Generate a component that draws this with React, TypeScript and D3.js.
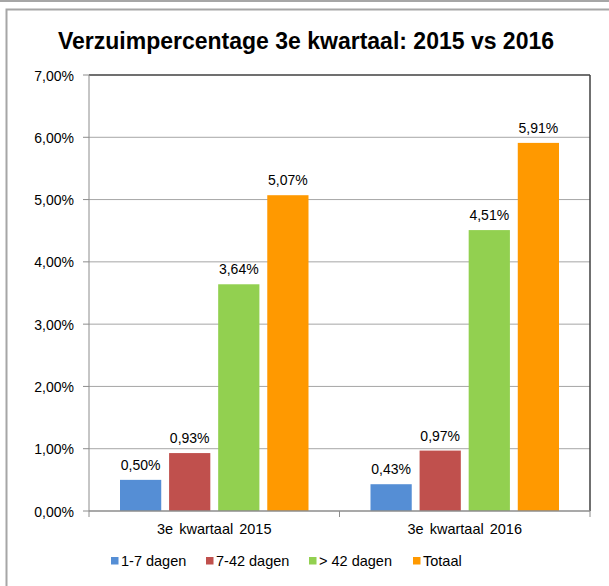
import React from "react";
import * as d3 from "d3";

const categories = ["3e kwartaal 2015", "3e kwartaal 2016"];
const seriesNames = ["1-7 dagen", "7-42 dagen", "> 42 dagen", "Totaal"];
const seriesColors = ["#558ED5", "#C0504D", "#92D050", "#FF9900"];
const values2015 = [0.5, 0.93, 3.64, 5.07];
const values2016 = [0.43, 0.97, 4.51, 5.91];
const yTicks = [0, 1, 2, 3, 4, 5, 6, 7];

const W = 609;
const H = 586;
const plot = { left: 89, right: 590, top: 75, bottom: 511 };

const fmt = (v: number) => v.toFixed(2).replace(".", ",") + "%";

export default function App() {
  const data = [values2015, values2016];
  const x0 = d3
    .scaleBand<string>()
    .domain(categories)
    .range([plot.left, plot.right])
    .paddingInner(0)
    .paddingOuter(0);
  const x1 = d3
    .scaleBand<string>()
    .domain(seriesNames)
    .range([31, x0.bandwidth() - 31])
    .paddingInner(0.16)
    .paddingOuter(0);
  const y = d3.scaleLinear().domain([0, 7]).range([plot.bottom, plot.top]);
  const font = "Liberation Sans, Arial, sans-serif";

  const legendX = [111, 206, 309, 413];

  return (
    <svg
      width={W}
      height={H}
      style={{ position: "absolute", left: 0, top: 0 }}
      fontFamily={font}
    >
      <rect x={0} y={0} width={W} height={H} fill="#fff" />
      <line x1={0} x2={W} y1={1} y2={1} stroke="#a6a6a6" strokeWidth={2} />
      <rect x={6.5} y={9.5} width={W + 10} height={H + 10} fill="#fff" stroke="#a6a6a6" strokeWidth={2} />
      <text x={306} y={49} textAnchor="middle" fontSize={23} fontWeight="bold" fill="#000">
        Verzuimpercentage 3e kwartaal: 2015 vs 2016
      </text>
      {yTicks.map((t) => (
        <g key={t}>
          {t > 0 && t < 7 && (
            <line x1={plot.left} x2={plot.right} y1={y(t)} y2={y(t)} stroke="#a6a6a6" strokeWidth={1} />
          )}
          <line x1={plot.left - 6} x2={plot.left} y1={y(t)} y2={y(t)} stroke="#8c8c8c" strokeWidth={1} />
          <text x={74} y={y(t) + 5.5} textAnchor="end" fontSize={14} fill="#000">
            {fmt(t)}
          </text>
        </g>
      ))}
      {/* plot border top/right */}
      <line x1={plot.left} x2={plot.right} y1={plot.top} y2={plot.top} stroke="#404040" strokeWidth={1.5} />
      <line x1={plot.right} x2={plot.right} y1={plot.top} y2={plot.bottom} stroke="#404040" strokeWidth={1.5} />
      {/* bars */}
      {categories.map((c, ci) => (
        <g key={c} transform={`translate(${x0(c)},0)`}>
          {seriesNames.map((s, si) => {
            const v = data[ci][si];
            const bx = x1(s)!;
            return (
              <g key={s}>
                <rect
                  x={bx}
                  y={y(v)}
                  width={x1.bandwidth()}
                  height={y(0) - y(v)}
                  fill={seriesColors[si]}
                />
                <text
                  x={bx + x1.bandwidth() / 2}
                  y={y(v) - 10}
                  textAnchor="middle"
                  fontSize={14}
                  fill="#000"
                >
                  {fmt(v)}
                </text>
              </g>
            );
          })}
        </g>
      ))}
      {/* axes */}
      <line x1={plot.left} x2={plot.left} y1={plot.top} y2={plot.bottom} stroke="#8c8c8c" strokeWidth={1} />
      <line x1={plot.left} x2={plot.right} y1={plot.bottom} y2={plot.bottom} stroke="#8c8c8c" strokeWidth={1.5} />
      {[...categories.map((c) => x0(c)!), plot.right].map((xv, i) => (
        <line key={i} x1={xv} x2={xv} y1={plot.bottom} y2={plot.bottom + 6} stroke="#8c8c8c" strokeWidth={1} />
      ))}
      {categories.map((c) => (
        <text
          key={c}
          x={x0(c)! + x0.bandwidth() / 2}
          y={534}
          textAnchor="middle"
          fontSize={14.5}
          wordSpacing={2}
          fill="#000"
        >
          {c}
        </text>
      ))}
      {/* legend */}
      {seriesNames.map((s, i) => (
        <g key={s}>
          <rect x={legendX[i]} y={557} width={7.5} height={7.5} fill={seriesColors[i]} />
          <text x={legendX[i] + 10} y={566} fontSize={14.5} fill="#000">
            {s}
          </text>
        </g>
      ))}
    </svg>
  );
}
